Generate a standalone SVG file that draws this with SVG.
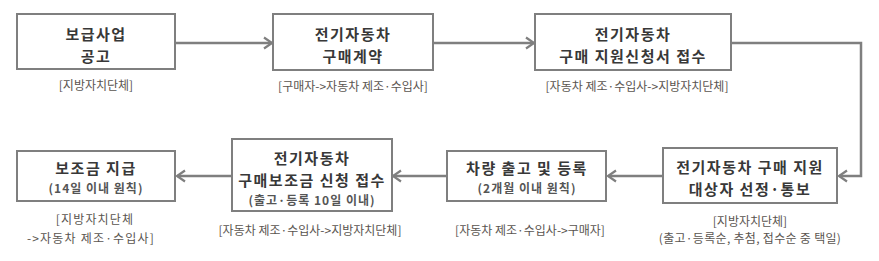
<svg xmlns="http://www.w3.org/2000/svg" width="879" height="261" viewBox="0 0 879 261">
<style>
.box{fill:#fff;stroke:#7f7f7f;stroke-width:2}
.t{font-family:"Noto Sans CJK KR","Noto Sans",sans-serif;font-weight:bold;font-size:15px;fill:#383838;text-anchor:middle;letter-spacing:1.5px}
.s{font-family:"Noto Sans CJK KR","Noto Sans",sans-serif;font-weight:bold;font-size:12px;fill:#555;text-anchor:middle;letter-spacing:1px}
.l{font-family:"Noto Sans CJK KR","Noto Sans",sans-serif;font-size:12px;fill:#5a5550;text-anchor:middle}
.w{letter-spacing:1.2px}
.c{fill:none;stroke:#7f7f7f;stroke-width:2.5}
</style>
<defs>
<marker id="ah" markerUnits="userSpaceOnUse" markerWidth="14" markerHeight="14" refX="10" refY="7" orient="auto">
<path d="M2,1.5 L10,7 L2,12.5" fill="none" stroke="#7f7f7f" stroke-width="2.2"/>
</marker>
</defs>
<g id="connectors">
<line class="c" x1="175" y1="43" x2="272" y2="43" marker-end="url(#ah)"/>
<line class="c" x1="433" y1="43" x2="534" y2="43" marker-end="url(#ah)"/>
<polyline class="c" points="731,43 861,43 861,176 839,176" marker-end="url(#ah)"/>
<line class="c" x1="662" y1="176" x2="608" y2="176" marker-end="url(#ah)"/>
<line class="c" x1="447" y1="176" x2="393" y2="176" marker-end="url(#ah)"/>
<line class="c" x1="231" y1="176" x2="177" y2="176" marker-end="url(#ah)"/>
</g>
<g id="n1">
<rect class="box" x="17" y="14" width="158" height="55"/>
<text class="t" x="96" y="40">보급사업</text>
<text class="t" x="96" y="62">공고</text>
<text class="l" x="96" y="90">[지방자치단체]</text>
</g>
<g id="n2">
<rect class="box" x="273" y="14" width="160" height="56"/>
<text class="t" x="353" y="40">전기자동차</text>
<text class="t" x="353" y="62">구매계약</text>
<text class="l" x="353" y="91">[구매자-&gt;자동차 제조·수입사]</text>
</g>
<g id="n3">
<rect class="box" x="535" y="14" width="196" height="56"/>
<text class="t" x="633" y="40">전기자동차</text>
<text class="t" x="633" y="62">구매 지원신청서 접수</text>
<text class="l" x="637" y="91">[자동차 제조·수입사-&gt;지방자치단체]</text>
</g>
<g id="n4">
<rect class="box" x="663" y="148" width="174" height="55"/>
<text class="t" x="750" y="173">전기자동차 구매 지원</text>
<text class="t" x="750" y="195">대상자  선정·통보</text>
<text class="l" x="750" y="225.5">[지방자치단체]</text>
<text class="l" x="750" y="243" style="letter-spacing:0.3px">(출고·등록순, 추첨, 접수순 중 택일)</text>
</g>
<g id="n5">
<rect class="box" x="447" y="151" width="159" height="50"/>
<text class="t" x="527" y="174">차량 출고 및 등록</text>
<text class="s" x="527" y="192.5">(2개월 이내 원칙)</text>
<text class="l" x="530" y="235">[자동차 제조·수입사-&gt;구매자]</text>
</g>
<g id="n6">
<rect class="box" x="232" y="139" width="160" height="72"/>
<text class="t" x="312" y="164">전기자동차</text>
<text class="t" x="312" y="186">구매보조금 신청 접수</text>
<text class="s" x="312" y="205">(출고·등록 10일 이내)</text>
<text class="l" x="310" y="235">[자동차 제조·수입사-&gt;지방자치단체]</text>
</g>
<g id="n7">
<rect class="box" x="17" y="151" width="158" height="50"/>
<text class="t" x="96" y="174">보조금 지급</text>
<text class="s" x="96" y="192.5">(14일 이내 원칙)</text>
<text class="l w" x="95" y="224">[지방자치단체</text>
<text class="l w" x="91" y="243">-&gt;자동차 제조·수입사]</text>
</g>
</svg>
